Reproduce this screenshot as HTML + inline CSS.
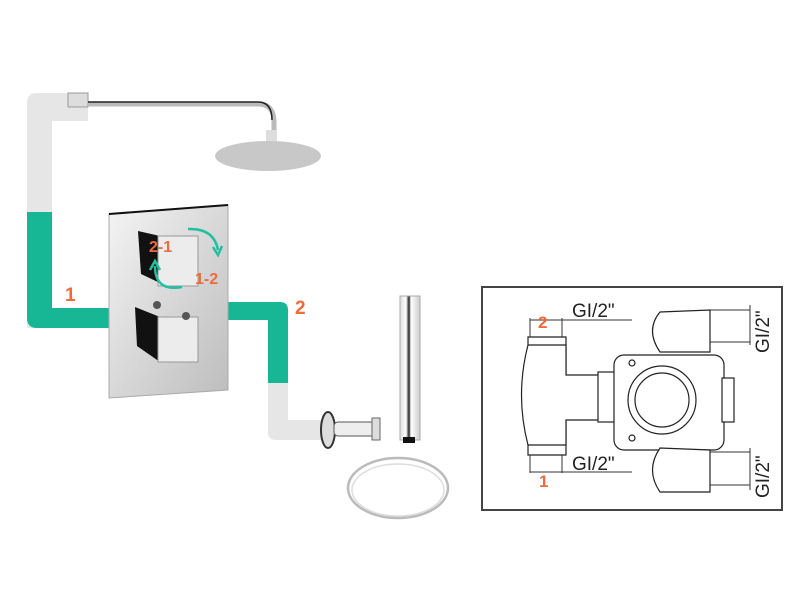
<!DOCTYPE html>
<html><head><meta charset="utf-8"><style>
html,body{margin:0;padding:0;background:#fff;width:800px;height:600px;overflow:hidden}
svg{display:block}
text{font-family:"Liberation Sans",sans-serif}
</style></head><body>
<svg width="800" height="600" viewBox="0 0 800 600" xmlns="http://www.w3.org/2000/svg">
<defs>
<linearGradient id="chrome" x1="0" y1="0" x2="1" y2="1">
<stop offset="0" stop-color="#f4f4f4"/><stop offset="0.5" stop-color="#d8d8d8"/><stop offset="1" stop-color="#bdbdbd"/>
</linearGradient>
<linearGradient id="bar" x1="0" y1="0" x2="1" y2="0">
<stop offset="0" stop-color="#ddd"/><stop offset="0.3" stop-color="#fff"/><stop offset="0.45" stop-color="#222"/><stop offset="0.55" stop-color="#fff"/><stop offset="1" stop-color="#ccc"/>
</linearGradient>
</defs>
<path d="M27,328 V103 Q27,93 37,93 H88 V121 H52 V328 Z" fill="#e6e6e6"/>
<path d="M27,212 H52 V308 H110 V328 H37 Q27,328 27,318 Z" fill="#17b795"/>
<path d="M228,302 H280 Q288,302 288,310 V383 H268 V320 H228 Z" fill="#17b795"/>
<path d="M268,383 H288 V420 H322 V440 H276 Q268,440 268,432 Z" fill="#e6e6e6"/>
<rect x="68" y="93" width="20" height="14" fill="#ddd" stroke="#999"/>
<path d="M88,104 H258 Q274,104 274,122 V142" fill="none" stroke="#bbb" stroke-width="5"/>
<path d="M88,102 H258 Q272,102 272,120" fill="none" stroke="#222" stroke-width="1.5"/>
<rect x="266" y="130" width="11" height="16" fill="#ddd"/>
<ellipse cx="268" cy="156" rx="53" ry="15" fill="#c8c8c8"/>
<path d="M109,214 L228,205 V390 L109,398 Z" fill="url(#chrome)" stroke="#aaa"/>
<path d="M109,214 L228,205" stroke="#111" stroke-width="2"/>
<path d="M138,231 L160,236 L160,283 L141,274 Z" fill="#111"/>
<rect x="158" y="236" width="40" height="50" fill="#ececec" stroke="#999"/>
<path d="M135,307 L160,317 L160,362 L137,346 Z" fill="#111"/>
<rect x="158" y="317" width="40" height="45" fill="#ececec" stroke="#999"/>
<circle cx="157" cy="305" r="4" fill="#555"/><circle cx="186" cy="316" r="4" fill="#555"/>
<path d="M188,229 Q214,228 218,250" fill="none" stroke="#22c0a0" stroke-width="2.5"/>
<path d="M213,247 L218,255 L222,246" fill="none" stroke="#22c0a0" stroke-width="2.5"/>
<path d="M182,287 Q155,292 155,266" fill="none" stroke="#22c0a0" stroke-width="2.5"/>
<path d="M150,270 L155,261 L160,270" fill="none" stroke="#22c0a0" stroke-width="2.5"/>
<text x="149" y="252" font-size="16" font-weight="bold" fill="#f26a3a">2-1</text>
<text x="195" y="284" font-size="16" font-weight="bold" fill="#f26a3a">1-2</text>
<text x="65" y="301" font-size="19" font-weight="bold" fill="#f26a3a">1</text>
<text x="295" y="314" font-size="19" font-weight="bold" fill="#f26a3a">2</text>
<ellipse cx="328" cy="430" rx="7" ry="18" fill="#ddd" stroke="#333" stroke-width="2"/>
<rect x="334" y="422" width="42" height="14" rx="4" fill="#eee" stroke="#555"/>
<rect x="372" y="418" width="8" height="22" fill="#ddd" stroke="#666"/>
<rect x="400" y="296" width="20" height="144" fill="url(#bar)" stroke="#aaa"/>
<rect x="403" y="437" width="12" height="6" fill="#111"/>
<ellipse cx="398" cy="488" rx="50" ry="30" fill="none" stroke="#bbb" stroke-width="2.5"/>
<ellipse cx="398" cy="490" rx="46" ry="26" fill="none" stroke="#ddd" stroke-width="1.5"/>
<rect x="482" y="287" width="300" height="223" fill="#fff" stroke="#444" stroke-width="2"/>
<g fill="#fff" stroke="#222" stroke-width="1.2">
<path d="M528,337 H566 V455 H528 Z"/>
<path d="M528,345 Q515,395 528,445 H566 V420 H600 V375 H566 V345 Z"/>
<rect x="598" y="372" width="18" height="50"/>
<rect x="614" y="355" width="110" height="95" rx="10"/>
<circle cx="662" cy="400" r="34"/><circle cx="662" cy="400" r="27"/>
<rect x="722" y="378" width="12" height="44"/>
<path d="M660,312 Q645,330 660,352 H710 V310 Z"/>
<path d="M660,448 Q645,470 660,492 H710 V450 Z"/>
<circle cx="632" cy="363" r="3"/><circle cx="632" cy="438" r="3"/>
</g>
<g stroke="#333" stroke-width="1" fill="none">
<line x1="530" y1="318" x2="530" y2="337"/><line x1="562" y1="318" x2="562" y2="337"/>
<line x1="530" y1="320" x2="632" y2="320"/>
<line x1="530" y1="455" x2="530" y2="473"/><line x1="562" y1="455" x2="562" y2="473"/>
<line x1="530" y1="472" x2="632" y2="472"/>
<line x1="710" y1="310" x2="750" y2="310"/><line x1="710" y1="342" x2="750" y2="342"/>
<line x1="750" y1="305" x2="750" y2="345"/>
<line x1="710" y1="452" x2="750" y2="452"/><line x1="710" y1="485" x2="750" y2="485"/>
<line x1="750" y1="448" x2="750" y2="490"/>
</g>
<text x="572" y="317" font-size="19" fill="#222">GI/2"</text>
<text x="572" y="470" font-size="19" fill="#222">GI/2"</text>
<text x="538" y="328" font-size="17" font-weight="bold" fill="#f26a3a">2</text>
<text x="539" y="487" font-size="17" font-weight="bold" fill="#f26a3a">1</text>
<text transform="translate(769,353) rotate(-90)" font-size="19" fill="#222">GI/2"</text>
<text transform="translate(769,498) rotate(-90)" font-size="19" fill="#222">GI/2"</text>
</svg>
</body></html>
